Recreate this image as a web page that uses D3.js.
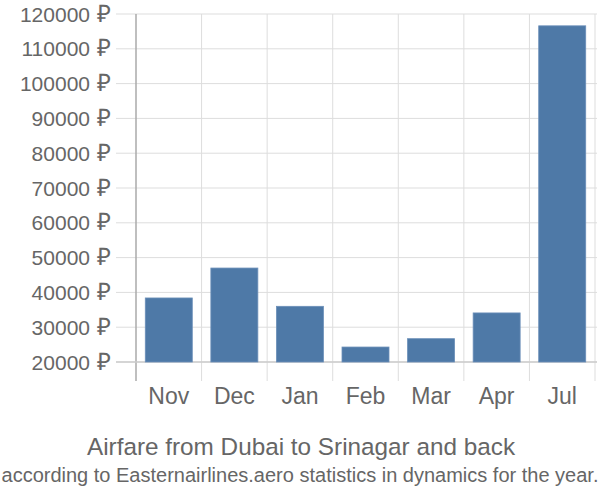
<!DOCTYPE html>
<html><head><meta charset="utf-8">
<script src="https://cdn.jsdelivr.net/npm/d3@7"></script>
<style>body{margin:0;background:#fff}text{font-family:"Liberation Sans",Arial,sans-serif;fill:#666}</style>
</head><body><svg id="c" width="600" height="500"></svg>
<script>
const categories = ["Nov","Dec","Jan","Feb","Mar","Apr","Jul"];
const values = [38400,47000,36000,24300,26700,34100,116600];
const yTicks = [20000,30000,40000,50000,60000,70000,80000,90000,100000,110000,120000];
const title = "Airfare from Dubai to Srinagar and back";
const subtitle = "according to Easternairlines.aero statistics in dynamics for the year.";

(function(){
const svg = d3.select("#c");
const pl = 136, pr = 595, pt = 14, base = 362, axisBottom = 381;
const x = d3.scaleBand().domain(categories).range([pl, pr]);
const y = d3.scaleLinear().domain([20000,120000]).range([base, pt]);

svg.append("g").selectAll("line").data(yTicks).join("line")
  .attr("x1", 116).attr("x2", pr+2).attr("y1", d=>y(d)).attr("y2", d=>y(d))
  .attr("stroke", "#dddddd").attr("stroke-width", 1);
const vx = categories.map(c=>x(c)).concat([x(categories[categories.length-1])+x.bandwidth()]);
svg.append("g").selectAll("line").data(vx.slice(1)).join("line")
  .attr("x1", d=>d).attr("x2", d=>d).attr("y1", pt).attr("y2", axisBottom)
  .attr("stroke", "#dddddd").attr("stroke-width", 1);
svg.append("line").attr("x1", pl).attr("x2", pl).attr("y1", pt).attr("y2", axisBottom)
  .attr("stroke", "#aaaaaa").attr("stroke-width", 1.5);
svg.append("line").attr("x1", 116).attr("x2", pr+2).attr("y1", base).attr("y2", base)
  .attr("stroke", "#cccccc").attr("stroke-width", 1.5);

const yl = svg.append("g").selectAll("text").data(yTicks).join("text")
  .attr("x", 111).attr("y", d=>y(d)).attr("dy", "0.36em").attr("text-anchor", "end")
  .attr("font-size", 21);
yl.append("tspan").text(d=>d);
yl.append("tspan").attr("dx", 7).attr("font-size", 24).text("₽");

const bw = 47;
svg.append("g").selectAll("rect").data(values).join("rect")
  .attr("x", (d,i)=>x(categories[i]) + (x.bandwidth()-bw)/2)
  .attr("width", bw)
  .attr("y", d=>y(d)).attr("height", d=>base - y(d))
  .attr("fill", "#4e79a7").attr("stroke", "#6b8fb9").attr("stroke-width", 0.8);

svg.append("g").selectAll("text").data(categories).join("text")
  .attr("x", d=>x(d)+x.bandwidth()/2).attr("y", 404).attr("text-anchor", "middle")
  .attr("font-size", 23).text(d=>d);

svg.append("text").attr("x", 301).attr("y", 455).attr("text-anchor", "middle")
  .attr("font-size", 24.3).text(title);
svg.append("text").attr("x", 300).attr("y", 482).attr("text-anchor", "middle")
  .attr("font-size", 20).text(subtitle);
})();
</script></body></html>
